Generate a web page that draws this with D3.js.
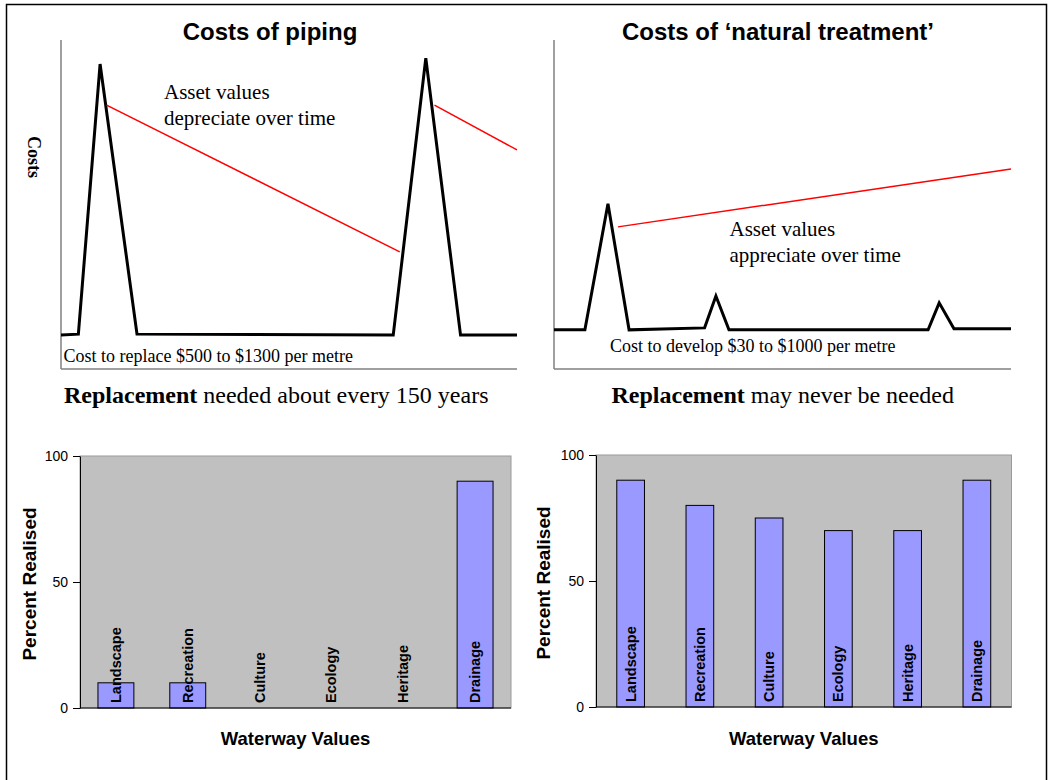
<!DOCTYPE html>
<html>
<head>
<meta charset="utf-8">
<script src="https://cdn.jsdelivr.net/npm/d3@7"></script>
<style>
    body { margin: 0; background: #fff; }
    .serif { font-family: "Liberation Serif", "Times New Roman", serif; }
    .sans { font-family: "Liberation Sans", Arial, sans-serif; }
</style>
</head>
<body>
<div id="chart"></div>
<script>
// cost over time (years), cost in arbitrary units 0..100
var pipingYears = [0, 8, 18, 35, 153, 168, 184, 210];
var pipingCosts = [10.3, 10.6, 92.7, 10.6, 10.3, 94.5, 10.3, 10.3];
var pipingAssetYears = [21, 156, 172, 210];
var pipingAssetValues = [80.2, 35.6, 80.2, 66.6];
var pipingAssetSegment = [0, 0, 1, 1];

var naturalYears = [0, 14.2, 24.8, 34.5, 69.2, 74.4, 80.4, 171.9, 177, 183.8, 210];
var naturalCosts = [11.9, 11.9, 50.2, 11.9, 12.5, 22.2, 11.9, 11.9, 20.1, 12.2, 12.2];
var naturalAssetYears = [29.4, 210];
var naturalAssetValues = [43.2, 60.8];
var naturalAssetSegment = [0, 0];

var waterwayValues = ["Landscape", "Recreation", "Culture", "Ecology", "Heritage", "Drainage"];
var pipingRealised = [10, 10, 0, 0, 0, 90];
var naturalRealised = [90, 80, 75, 70, 70, 90];
var percentTicks = [0, 50, 100];

document.addEventListener("DOMContentLoaded", function() {

    var width = 1048, height = 780;

    var svg = d3.select("#chart").append("svg")
        .attr("width", width)
        .attr("height", height);

    // outer frame
    svg.append("rect")
        .attr("x", 6.5).attr("y", 4.5)
        .attr("width", 1040).attr("height", 800)
        .attr("fill", "none")
        .attr("stroke", "#000")
        .attr("stroke-width", 1.5);

    function costPanel(p) {
        var x = d3.scaleLinear().domain([0, 210]).range([p.left, p.right]);
        var y = d3.scaleLinear().domain([0, 100]).range([369, 40]);
        var g = svg.append("g");

        g.append("line")
            .attr("x1", x(0)).attr("x2", x(0))
            .attr("y1", y(100)).attr("y2", y(0))
            .attr("stroke", "#808080").attr("stroke-width", 1.5);
        g.append("line")
            .attr("x1", x(0)).attr("x2", x(210))
            .attr("y1", y(0)).attr("y2", y(0))
            .attr("stroke", "#808080").attr("stroke-width", 1.5);

        var costData = p.years.map(function(d, i) { return { year: d, value: p.costs[i] }; });
        var line = d3.line()
            .x(function(d) { return x(d.year); })
            .y(function(d) { return y(d.value); });

        g.append("path")
            .datum(costData)
            .attr("d", line)
            .attr("fill", "none")
            .attr("stroke", "#000")
            .attr("stroke-width", 3)
            .attr("stroke-linejoin", "miter");

        var assetData = p.assetYears.map(function(d, i) {
            return { year: d, value: p.assetValues[i], seg: p.assetSegment[i] };
        });
        var segs = d3.groups(assetData, function(d) { return d.seg; });
        g.selectAll(".asset")
            .data(segs)
            .enter().append("path")
            .attr("class", "asset")
            .attr("d", function(d) { return line(d[1]); })
            .attr("fill", "none")
            .attr("stroke", "#ff0000")
            .attr("stroke-width", 1.5);

        g.append("text")
            .attr("class", "sans")
            .attr("x", p.titleX).attr("y", 40)
            .attr("text-anchor", "middle")
            .style("font-size", "24px")
            .style("font-weight", "bold")
            .text(p.title);

        var note = g.append("text")
            .attr("class", "serif")
            .style("font-size", "21px");
        note.append("tspan").attr("x", p.noteX).attr("y", p.noteY).text("Asset values");
        note.append("tspan").attr("x", p.noteX).attr("y", p.noteY + 26).text(p.note2);

        g.append("text")
            .attr("class", "serif")
            .attr("x", p.costX).attr("y", p.costY)
            .style("font-size", "18px")
            .text(p.costText);

        var rep = g.append("text")
            .attr("class", "serif")
            .attr("x", p.repX).attr("y", 403)
            .style("font-size", "24px");
        rep.append("tspan").style("font-weight", "bold").text("Replacement");
        rep.append("tspan").text(p.repText);
    }

    costPanel({
        left: 61, right: 517, titleX: 270, title: "Costs of piping",
        years: pipingYears, costs: pipingCosts,
        assetYears: pipingAssetYears, assetValues: pipingAssetValues, assetSegment: pipingAssetSegment,
        noteX: 164, noteY: 99, note2: "depreciate over time",
        costX: 63.5, costY: 362, costText: "Cost to replace $500 to $1300 per metre",
        repX: 64, repText: " needed about every 150 years"
    });

    costPanel({
        left: 554, right: 1011, titleX: 778, title: "Costs of \u2018natural treatment\u2019",
        years: naturalYears, costs: naturalCosts,
        assetYears: naturalAssetYears, assetValues: naturalAssetValues, assetSegment: naturalAssetSegment,
        noteX: 729.5, noteY: 236, note2: "appreciate over time",
        costX: 610, costY: 352, costText: "Cost to develop $30 to $1000 per metre",
        repX: 611.5, repText: " may never be needed"
    });

    svg.append("text")
        .attr("class", "serif")
        .attr("transform", "translate(28,157) rotate(90)")
        .attr("text-anchor", "middle")
        .style("font-size", "18px")
        .style("font-weight", "bold")
        .text("Costs");

    function barPanel(p) {
        var x = d3.scaleBand().domain(waterwayValues)
            .range([p.left, p.right])
            .paddingInner(p.pad).paddingOuter(p.pad / 2);
        var y = d3.scaleLinear().domain([0, 100]).range([p.bottom, p.top]);
        var g = svg.append("g");

        g.append("rect")
            .attr("x", p.left).attr("y", p.top)
            .attr("width", p.right - p.left).attr("height", p.bottom - p.top)
            .attr("fill", "#c0c0c0")
            .attr("stroke", "#9a9a9a")
            .attr("stroke-width", 1);

        var data = waterwayValues.map(function(d, i) { return { name: d, value: p.values[i] }; });

        g.selectAll(".bar")
            .data(data.filter(function(d) { return d.value > 0; }))
            .enter().append("rect")
            .attr("class", "bar")
            .attr("x", function(d) { return x(d.name); })
            .attr("y", function(d) { return y(d.value); })
            .attr("width", x.bandwidth())
            .attr("height", function(d) { return y(0) - y(d.value); })
            .attr("fill", "#9999ff")
            .attr("stroke", "#000")
            .attr("stroke-width", 1);

        var yAxis = g.append("g")
            .attr("transform", "translate(" + p.left + ",0)")
            .call(d3.axisLeft(y).tickValues(percentTicks).tickSize(7).tickSizeOuter(0).tickPadding(5));
        yAxis.attr("font-size", 14).attr("font-family", "Liberation Sans, Arial, sans-serif");
        yAxis.selectAll("text").attr("fill", "#000");
        yAxis.selectAll("line, path").attr("stroke", "#000");

        g.append("line")
            .attr("x1", p.left).attr("x2", p.right)
            .attr("y1", y(0)).attr("y2", y(0))
            .attr("stroke", "#000");

        g.selectAll(".cat")
            .data(data)
            .enter().append("text")
            .attr("class", "cat sans")
            .attr("transform", function(d) {
                return "translate(" + (x(d.name) + x.bandwidth() / 2 + 5) + "," + (y(0) - 5) + ") rotate(-90)";
            })
            .style("font-size", "14.5px")
            .style("font-weight", "bold")
            .text(function(d) { return d.name; });

        g.append("text")
            .attr("class", "sans")
            .attr("transform", "translate(" + p.yLabelX + "," + ((p.top + p.bottom) / 2 + 2) + ") rotate(-90)")
            .attr("text-anchor", "middle")
            .style("font-size", "19px")
            .style("font-weight", "bold")
            .text("Percent Realised");

        g.append("text")
            .attr("class", "sans")
            .attr("x", (p.left + p.right) / 2).attr("y", 745)
            .attr("text-anchor", "middle")
            .style("font-size", "18.5px")
            .style("font-weight", "bold")
            .text("Waterway Values");
    }

    barPanel({ left: 80, right: 511, top: 456, bottom: 708, pad: 0.5, values: pipingRealised, yLabelX: 36 });
    barPanel({ left: 596, right: 1011.5, top: 455, bottom: 707, pad: 0.6, values: naturalRealised, yLabelX: 550 });
});
</script>
</body>
</html>
